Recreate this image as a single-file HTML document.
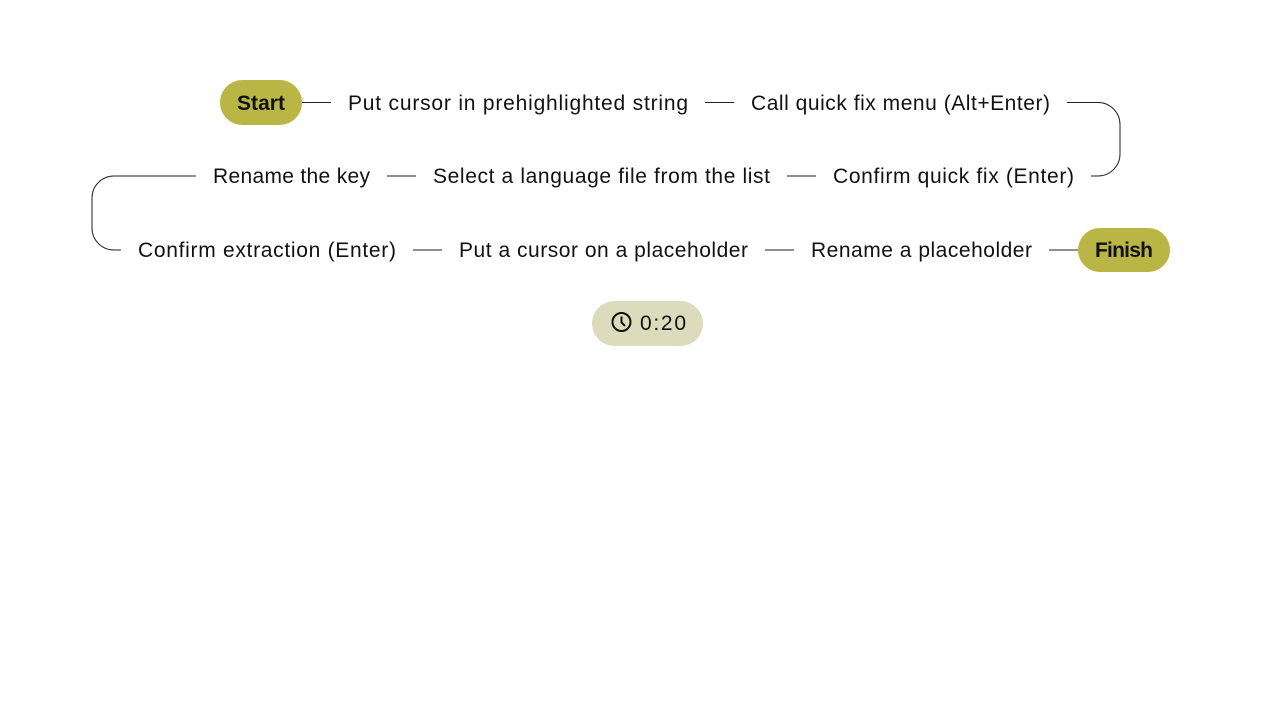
<!DOCTYPE html>
<html><head><meta charset="utf-8"><style>
html,body{margin:0;padding:0;background:#fff;width:1262px;height:720px;overflow:hidden}
svg{display:block}
text{font-family:"Liberation Sans",sans-serif;font-size:21px;fill:#111}
</style></head><body>
<svg width="1262" height="720" viewBox="0 0 1262 720">
<g stroke="#222" stroke-width="1" fill="none">
<line x1="302" y1="102.5" x2="331" y2="102.5"/>
<line x1="705" y1="102.5" x2="734" y2="102.5"/>
<path d="M1067 102.5 H1098 A22 22 0 0 1 1120 124.5 V154 A22 22 0 0 1 1098 176 H1091"/>
<line x1="787" y1="176" x2="816" y2="176"/>
<line x1="387" y1="176" x2="416" y2="176"/>
<path d="M196 176 H114 A22 22 0 0 0 92 198 V228 A22 22 0 0 0 114 250 H121"/>
<line x1="413" y1="250" x2="442" y2="250"/>
<line x1="765" y1="250" x2="794" y2="250"/>
<line x1="1049" y1="250" x2="1078" y2="250"/>
</g>
<rect x="220" y="80" width="82" height="45" rx="22.5" fill="#b9b646"/>
<text x="261" y="110" text-anchor="middle" font-weight="bold" font-size="20" textLength="48">Start</text>
<rect x="1078" y="228" width="92" height="44" rx="22" fill="#b9b646"/>
<text x="1124" y="257" text-anchor="middle" font-weight="bold" font-size="20" textLength="58">Finish</text>
<text x="348" y="110" textLength="340">Put cursor in prehighlighted string</text>
<text x="751" y="110" textLength="299">Call quick fix menu (Alt+Enter)</text>
<text x="833" y="183" textLength="241">Confirm quick fix (Enter)</text>
<text x="433" y="183" textLength="337">Select a language file from the list</text>
<text x="213" y="183" textLength="157">Rename the key</text>
<text x="138" y="257" textLength="258">Confirm extraction (Enter)</text>
<text x="459" y="257" textLength="289">Put a cursor on a placeholder</text>
<text x="811" y="257" textLength="221">Rename a placeholder</text>
<rect x="592" y="301" width="111" height="45" rx="22.5" fill="#dcdbbb"/>
<circle cx="621.5" cy="322" r="9" fill="none" stroke="#111" stroke-width="2"/>
<path d="M621.5 316.5 V322.5 L625 326" fill="none" stroke="#111" stroke-width="2"/>
<text x="640" y="330" textLength="46">0:20</text>
</svg>
</body></html>
